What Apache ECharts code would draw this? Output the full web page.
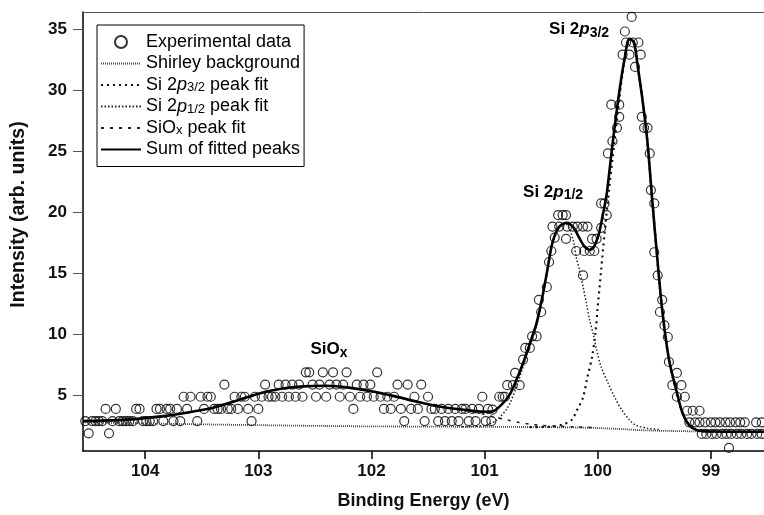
<!DOCTYPE html>
<html>
<head>
<meta charset="utf-8">
<title>Si 2p XPS spectrum</title>
<script src="https://cdn.jsdelivr.net/npm/echarts@6/dist/echarts.min.js"></script>
<style>
html, body { margin: 0; padding: 0; background: #fff; }
#chart { width: 764px; height: 515px; }
</style>
</head>
<body>
<div id="chart"></div>
<script type="text/javascript">
// tick labels
var xTicks = [99, 100, 101, 102, 103, 104];
var yTicks = [5, 10, 15, 20, 25, 30, 35];

// experimental points [binding energy, intensity]
var experimental = [
  [104.53,2.85],[104.50,1.85],[104.47,2.85],[104.44,2.85],[104.41,2.85],[104.38,2.85],[104.35,3.85],[104.32,1.85],
  [104.29,2.85],[104.26,3.85],[104.23,2.85],[104.20,2.85],[104.17,2.85],[104.14,2.85],[104.11,2.85],[104.08,3.85],
  [104.05,3.85],[104.02,2.85],[103.99,2.85],[103.96,2.85],[103.93,2.85],[103.90,3.85],[103.87,3.85],[103.84,2.85],
  [103.81,3.85],[103.78,3.85],[103.75,2.85],[103.72,3.85],[103.69,2.85],[103.66,4.85],[103.63,3.85],[103.60,4.85],
  [103.54,2.85],[103.51,4.85],[103.48,3.85],[103.45,4.85],[103.42,4.85],[103.39,3.85],[103.36,3.85],[103.33,3.85],
  [103.30,5.85],[103.27,3.85],[103.24,3.85],[103.21,4.85],[103.18,3.85],[103.15,4.85],[103.12,4.85],[103.09,3.85],
  [103.06,2.85],[103.03,4.85],[103.00,3.85],[102.97,4.85],[102.94,5.85],[102.91,4.85],[102.88,4.85],[102.85,4.85],
  [102.82,5.85],[102.79,4.85],[102.76,5.85],[102.73,4.85],[102.70,5.85],[102.67,4.85],[102.64,5.85],[102.61,4.85],
  [102.58,6.85],[102.55,6.85],[102.52,5.85],[102.49,4.85],[102.46,5.85],[102.43,6.85],[102.40,4.85],[102.37,5.85],
  [102.34,6.85],[102.31,5.85],[102.28,4.85],[102.25,5.85],[102.22,6.85],[102.19,4.85],[102.16,3.85],[102.13,5.85],
  [102.10,4.85],[102.07,5.85],[102.04,4.85],[102.01,5.85],[101.98,4.85],[101.95,6.85],[101.92,4.85],[101.89,3.85],
  [101.86,4.85],[101.83,3.85],[101.80,4.85],[101.77,5.85],[101.74,3.85],[101.71,2.85],[101.68,5.85],[101.65,3.85],
  [101.62,4.85],[101.59,3.85],[101.56,5.85],[101.53,2.85],[101.50,4.85],[101.47,3.85],[101.44,3.85],[101.41,2.85],
  [101.38,3.85],[101.35,2.85],[101.32,3.85],[101.29,2.85],[101.26,3.85],[101.23,2.85],[101.20,3.85],[101.17,3.85],
  [101.14,2.85],[101.11,3.85],[101.08,2.85],[101.05,3.85],[101.02,4.85],[100.99,2.85],[100.97,3.85],
  [100.94,2.85],[100.93,3.8],[100.87,4.85],[100.84,4.85],[100.82,4.85],[100.80,5.8],[100.75,5.8],[100.69,5.8],
  [100.73,6.8],[100.66,7.9],[100.64,8.85],[100.60,8.85],[100.58,9.8],[100.54,9.8],[100.50,11.8],[100.52,12.8],
  [100.45,13.85],[100.43,15.9],[100.41,16.8],[100.38,17.9],[100.40,18.8],[100.34,18.8],[100.35,19.75],[100.31,19.75],
  [100.28,19.75],[100.27,18.8],[100.22,18.8],[100.18,18.8],[100.13,18.8],[100.09,18.8],[100.28,17.8],[100.19,16.8],
  [100.12,16.8],[100.07,16.8],[100.03,16.8],[100.13,14.8],[100.05,17.8],[100.01,17.8],[99.97,18.7],[99.92,19.75],
  [99.97,20.7],[99.94,20.7],
  [99.70,36.0],[99.76,34.8],[99.75,33.9],[99.69,33.9],[99.64,33.9],[99.78,32.9],[99.72,32.9],[99.62,32.9],
  [99.67,31.9],[99.88,28.8],[99.81,28.8],[99.81,27.8],[99.61,27.8],[99.83,26.9],[99.59,26.9],[99.56,26.9],
  [99.87,25.8],[99.91,24.8],[99.54,24.8],[99.53,21.8],[99.50,20.7],
  [99.50,16.7],[99.47,14.8],[99.43,12.8],[99.45,11.8],[99.41,10.7],[99.38,9.75],[99.37,7.7],[99.30,6.8],
  [99.34,5.8],[99.26,5.8],[99.30,4.85],[99.23,4.85],[99.21,3.7],[99.16,3.7],[99.10,3.7],
  [99.19,2.75],[99.14,2.75],[99.10,2.75],[99.05,2.75],[99.00,2.75],[98.96,2.75],[98.92,2.75],[98.87,2.75],
  [98.83,2.75],[98.78,2.75],[98.74,2.75],[98.70,2.75],[98.60,2.75],[98.55,2.75],
  [99.08,1.8],[99.04,1.8],[98.99,1.8],[98.95,1.8],[98.90,1.8],[98.86,1.8],[98.82,1.8],[98.77,1.8],
  [98.73,1.8],[98.68,1.8],[98.64,1.8],[98.59,1.8],[98.55,1.8],[98.84,0.65]
];

var shirley = [
  [104.55,2.75],[104.2,2.7],[103.8,2.63],[103.4,2.57],[103.0,2.52],[102.5,2.46],[102.0,2.42],[101.5,2.4],
  [101.0,2.38],[100.5,2.36],[100.2,2.33],[100.0,2.28],[99.8,2.2],[99.6,2.1],[99.4,2.05],[99.2,2.02],[99.0,2.0],[98.53,1.98]
];

var fit32 = [
  [100.6,2.36],[100.4,2.4],[100.3,2.6],[100.23,2.95],[100.18,3.8],[100.13,4.8],[100.09,6.5],[100.05,8.1],
  [100.02,10.1],[100.0,12.2],[99.97,15.2],[99.94,18.2],[99.90,21.8],[99.87,24.3],[99.83,27.5],[99.78,31.4],
  [99.72,34.2],[99.68,34.0],[99.65,32.2],[99.60,28.9],[99.56,25.7],[99.52,21.2],[99.48,16.9],[99.43,12.0],
  [99.37,7.9],[99.30,5.0],[99.25,3.5],[99.19,2.5],[99.12,2.1],[99.0,2.0]
];

var fit12 = [
  [101.2,2.38],[101.0,2.5],[100.9,2.9],[100.8,3.9],[100.72,5.6],[100.66,7.3],[100.6,9.0],[100.54,10.7],
  [100.49,12.8],[100.45,14.8],[100.40,17.3],[100.34,18.7],[100.28,19.0],[100.22,17.8],[100.19,16.3],[100.16,15.2],
  [100.13,13.9],[100.10,12.5],[100.07,11.1],[100.04,10.0],[100.01,8.7],[99.97,7.3],[99.91,6.0],[99.85,4.8],
  [99.79,3.8],[99.72,2.95],[99.66,2.5],[99.55,2.25],[99.45,2.15]
];

var fitSiOx = [
  [104.55,2.85],[104.2,2.95],[104.0,3.1],[103.8,3.3],[103.6,3.6],[103.4,3.95],[103.2,4.5],[103.0,5.1],
  [102.8,5.5],[102.6,5.7],[102.4,5.75],[102.2,5.6],[102.0,5.3],[101.8,4.9],[101.6,4.45],[101.4,4.05],
  [101.2,3.75],[101.0,3.4],[100.9,3.15],[100.8,2.95],[100.7,2.75],[100.6,2.6],[100.5,2.5],[100.4,2.45],
  [100.2,2.38],[100.0,2.3]
];

var fitSum = [
  [104.55,2.85],[104.2,2.95],[104.0,3.1],[103.8,3.3],[103.6,3.6],[103.4,3.95],[103.2,4.5],[103.0,5.1],
  [102.8,5.5],[102.6,5.7],[102.4,5.75],[102.2,5.6],[102.0,5.3],[101.8,4.9],[101.6,4.45],[101.4,4.05],
  [101.2,3.8],[101.0,3.62],[100.93,3.65],[100.85,4.2],[100.78,5.0],[100.72,6.2],[100.66,7.6],[100.6,9.2],
  [100.54,10.9],[100.49,13.0],[100.45,15.0],[100.40,17.5],[100.34,18.8],[100.28,19.1],[100.22,18.8],[100.17,18.0],
  [100.12,17.2],[100.07,16.9],[100.03,17.2],[99.99,18.2],[99.95,20.0],[99.92,21.5],[99.87,25.5],[99.81,29.8],
  [99.76,32.7],[99.72,34.2],[99.68,33.9],[99.65,32.2],[99.60,28.9],[99.56,25.7],[99.52,21.2],[99.48,16.9],
  [99.43,12.0],[99.37,7.9],[99.30,5.2],[99.25,3.5],[99.19,2.5],[99.12,2.1],[99.0,2.0],[98.53,1.98]
];

var FONT = '"Liberation Sans", Arial, sans-serif';

var chart = echarts.init(document.getElementById('chart'));

var legendLabels = {
  'Si 2p3/2 peak fit': 'Si 2{i|p}{s|3/2} peak fit',
  'Si 2p1/2 peak fit': 'Si 2{i|p}{s|1/2} peak fit',
  'SiOx peak fit': 'SiO{s|x} peak fit'
};
// line entries: hide the palette-coloured marker, keep the line
var lineOnly = { opacity: 0 };

var option = {
  animation: false,
  backgroundColor: '#fff',
  textStyle: { fontFamily: FONT },
  grid: { left: 83, right: 0, top: 12, bottom: 64 },
  legend: {
    orient: 'vertical',
    left: 97,
    top: 25,
    backgroundColor: '#fff',
    borderColor: '#000',
    borderWidth: 1,
    borderRadius: 0,
    padding: [8, 4, 8, 3],
    itemGap: 3.5,
    itemWidth: 40,
    itemHeight: 12,
    textStyle: {
      fontFamily: FONT, fontSize: 18, color: '#000', lineHeight: 18,
      rich: {
        i: { fontFamily: FONT, fontSize: 18, fontStyle: 'italic', color: '#000' },
        s: { fontFamily: FONT, fontSize: 13, color: '#000', verticalAlign: 'bottom', lineHeight: 4 }
      }
    },
    formatter: function (name) { return legendLabels[name] || name; },
    data: [
      { name: 'Experimental data' },
      { name: 'Shirley background', itemStyle: lineOnly },
      { name: 'Si 2p3/2 peak fit', itemStyle: lineOnly },
      { name: 'Si 2p1/2 peak fit', itemStyle: lineOnly },
      { name: 'SiOx peak fit', itemStyle: lineOnly },
      { name: 'Sum of fitted peaks', itemStyle: lineOnly }
    ]
  },
  xAxis: [{
    type: 'value',
    inverse: true,
    min: 98.53,
    max: 104.55,
    name: 'Binding Energy (eV)',
    nameLocation: 'middle',
    nameGap: 41,
    nameTextStyle: { fontFamily: FONT, fontWeight: 'bold', fontSize: 18, color: '#111' },
    axisLine: { lineStyle: { color: '#000', width: 1.5 } },
    axisTick: { show: true, length: 8, customValues: xTicks, lineStyle: { color: '#000', width: 1.5 } },
    axisLabel: { customValues: xTicks, margin: 12, fontFamily: FONT, fontWeight: 'bold', fontSize: 17, color: '#111' },
    splitLine: { show: false }
  }, {
    type: 'value',
    inverse: true,
    position: 'top',
    min: 98.53,
    max: 104.55,
    axisLine: { show: true, lineStyle: { color: '#555', width: 1 } },
    axisTick: { show: false },
    axisLabel: { show: false },
    splitLine: { show: false }
  }],
  yAxis: {
    type: 'value',
    min: 0.4,
    max: 36.4,
    name: 'Intensity (arb. units)',
    nameLocation: 'middle',
    nameGap: 54,
    nameTextStyle: { fontFamily: FONT, fontWeight: 'bold', fontSize: 19.5, color: '#111', padding: [0, 0, 0, 34] },
    axisLine: { show: true, lineStyle: { color: '#000', width: 1.5 } },
    axisTick: { show: true, length: 10, customValues: yTicks, lineStyle: { color: '#555', width: 1 } },
    axisLabel: { customValues: yTicks, margin: 16, fontFamily: FONT, fontWeight: 'bold', fontSize: 17, color: '#111' },
    splitLine: { show: false }
  },
  series: [{
    name: 'Experimental data',
    type: 'scatter',
    data: experimental,
    symbol: 'circle',
    symbolSize: 9,
    itemStyle: { color: 'rgba(255,255,255,0)', borderColor: '#000', borderWidth: 1.2 },
    z: 2
  }, {
    name: 'Shirley background',
    type: 'line',
    data: shirley,
    symbol: 'none',
    smooth: 0.3,
    itemStyle: { color: '#555' },
    lineStyle: { color: '#444', width: 1.8, type: [1, 1] },
    z: 3
  }, {
    name: 'Si 2p3/2 peak fit',
    type: 'line',
    data: fit32,
    symbol: 'none',
    smooth: 0.3,
    itemStyle: { color: '#111' },
    lineStyle: { color: '#111', width: 2.2, type: [2, 4] },
    z: 3
  }, {
    name: 'Si 2p1/2 peak fit',
    type: 'line',
    data: fit12,
    symbol: 'none',
    smooth: 0.3,
    itemStyle: { color: '#222' },
    lineStyle: { color: '#222', width: 1.5, type: [1.5, 2] },
    z: 3
  }, {
    name: 'SiOx peak fit',
    type: 'line',
    data: fitSiOx,
    symbol: 'none',
    smooth: 0.3,
    itemStyle: { color: '#222' },
    lineStyle: { color: '#222', width: 1.6, type: [3, 6] },
    z: 3
  }, {
    name: 'Sum of fitted peaks',
    type: 'line',
    data: fitSum,
    symbol: 'none',
    smooth: 0.3,
    itemStyle: { color: '#000' },
    lineStyle: { color: '#000', width: 2.6 },
    z: 4
  }]
};

chart.setOption(option);

// peak labels, anchored to data coordinates
var boldRich = {
  b: { fontFamily: FONT, fontWeight: 'bold', fontSize: 17, lineHeight: 20, fill: '#000' },
  bi: { fontFamily: FONT, fontWeight: 'bold', fontStyle: 'italic', fontSize: 17, lineHeight: 20, fill: '#000' },
  s: { fontFamily: FONT, fontWeight: 'bold', fontSize: 14, fill: '#000', verticalAlign: 'bottom', lineHeight: 2 }
};
var peakLabels = [
  { at: [100.43, 34.95], text: '{b|Si 2}{bi|p}{s|3/2}' },
  { at: [100.66, 21.65], text: '{b|Si 2}{bi|p}{s|1/2}' },
  { at: [102.54, 8.7], text: '{b|SiO}{s|x}' }
];
var graphics = peakLabels.map(function (l) {
  var p = chart.convertToPixel({ gridIndex: 0 }, l.at);
  return {
    type: 'text',
    x: p[0],
    y: p[1],
    z: 10,
    style: { text: l.text, rich: boldRich, align: 'left', verticalAlign: 'middle' }
  };
});
chart.setOption({ graphic: graphics });
</script>
</body>
</html>
